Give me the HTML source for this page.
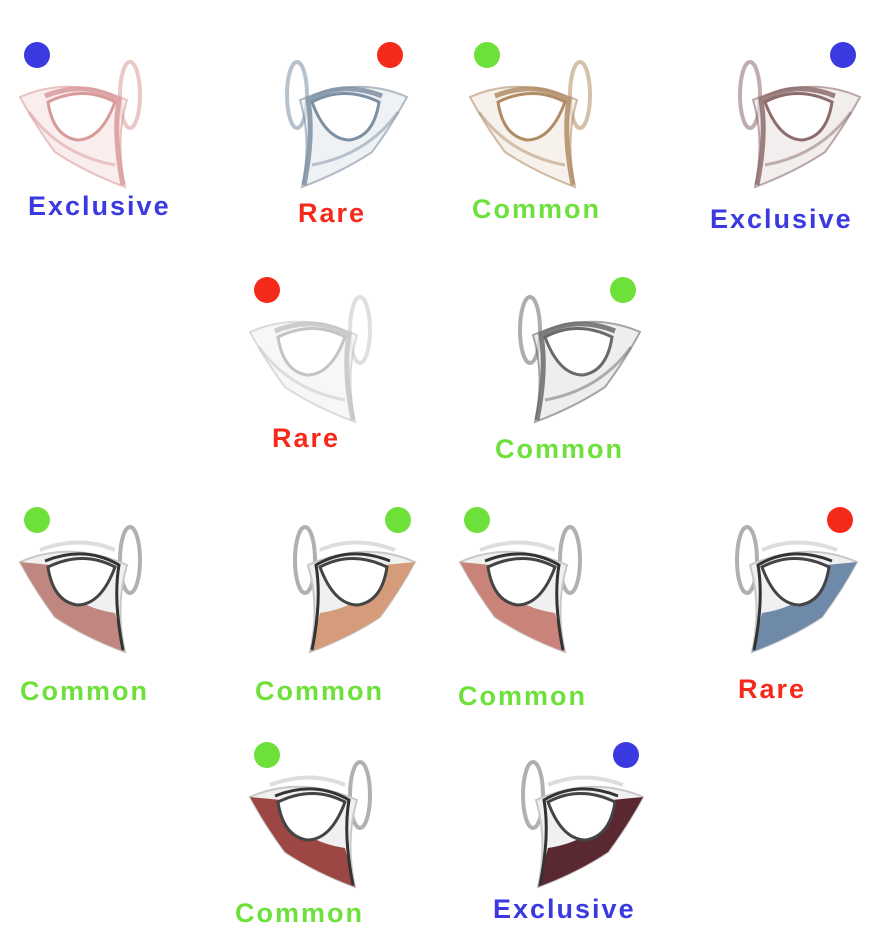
<!DOCTYPE html>
<html><head><meta charset="utf-8"><style>
html,body{margin:0;padding:0;background:#fff;}
svg{display:block}
text{font-family:"Liberation Sans",sans-serif;font-weight:bold;font-size:27px;letter-spacing:2px}
</style></head><body>
<svg id="s" width="879" height="933" viewBox="0 0 879 933" xmlns="http://www.w3.org/2000/svg"></svg>
<script>
var B='#3a3ae0',R='#f52a1a',G='#6ee03a';
var eyes=[
[15,40,0,'#d99a9a',B,'Exclusive',28,215,'#f6e2e2',0,B],
[272,40,1,'#7d8fa2',R,'Rare',298,222,'#e6eaee',0,R],
[465,40,0,'#b08c66',G,'Common',472,218,'#f1e8dd',0,G],
[725,40,1,'#8c6c6c',B,'Exclusive',710,228,'#ece4e4',0,B],
[245,275,0,'#c4c4c4',R,'Rare',272,447,'#f3f3f3',0,R],
[505,275,1,'#6a6a6a',G,'Common',495,458,'#e4e4e4',0,G],
[15,505,0,'#c08680',G,'Common',20,700,'',1,G],
[280,505,1,'#d49c7a',G,'Common',255,700,'',1,G],
[455,505,0,'#c98378',G,'Common',458,705,'',1,G],
[722,505,1,'#6e8aa8',R,'Rare',738,698,'',1,R],
[245,740,0,'#9c4744',G,'Common',235,922,'',1,G],
[508,740,1,'#5a2830',B,'Exclusive',493,918,'',1,B]
];
var h='';
eyes.forEach(function(e){
 var x=e[0],y=e[1],m=e[2],c=e[3];
 var tr=m?'translate('+(x+140)+','+y+') scale(-1,1)':'translate('+x+','+y+')';
 h+='<g transform="'+tr+'">';
 h+='<circle cx="22" cy="15" r="13" fill="'+e[10]+'"/>';
 h+='<ellipse cx="115" cy="55" rx="10" ry="33" fill="none" stroke="'+(e[9]?'#b0b0b0':c)+'" stroke-width="4" opacity="'+(e[9]?1:0.55)+'"/>';
 var outer='M5,57 Q55,35 112,60 Q100,100 110,147 Q70,132 40,112 Q20,85 5,57Z';
 if(e[9]){
  h+='<path d="M25,45 Q65,30 100,45" fill="none" stroke="#ddd" stroke-width="4"/>';
  h+='<path d="'+outer+'" fill="#f0f0f0" stroke="#c8c8c8" stroke-width="2"/>';
  h+='<path d="M5,57 L36,60 Q48,100 100,108 L110,147 Q70,132 40,112 Q20,85 5,57Z" fill="'+c+'"/>';
  h+='<path d="M30,56 Q70,40 104,60 Q98,95 108,145" fill="none" stroke="#333" stroke-width="3"/>';
 } else {
  h+='<path d="'+outer+'" fill="'+e[8]+'" stroke="'+c+'" stroke-width="2" opacity="0.6"/>';
  h+='<path d="M14,72 Q45,115 100,125" fill="none" stroke="'+c+'" stroke-width="3" opacity="0.5"/>';
  h+='<path d="M30,56 Q70,40 104,60 Q98,95 108,145" fill="none" stroke="'+c+'" stroke-width="5" opacity="0.85"/>';
 }
 h+='<path d="M33,62 Q68,45 100,62 Q86,100 62,100 Q38,96 33,62Z" fill="#fff" stroke="'+(e[9]?'#444':c)+'" stroke-width="3"/>';
 h+='</g>';
 h+='<text x="'+e[6]+'" y="'+e[7]+'" fill="'+e[4]+'">'+e[5]+'</text>';
});
document.getElementById('s').innerHTML=h;
</script>
</body></html>
